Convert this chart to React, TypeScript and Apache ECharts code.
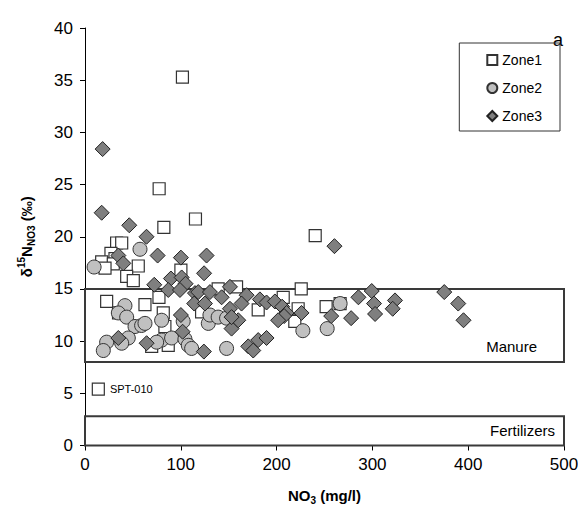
import React, { useEffect, useRef } from "react";
import * as echarts from "echarts";

// NO3 concentration (mg/l) and δ15N-NO3 (‰) for each sampling zone
const zone1X = [101.7, 77.4, 115.3, 82.3, 240.3, 33, 38.3, 27.1, 31.3, 17.4, 29.5, 20.9, 55.6, 100.1, 43.5, 50.4, 225.7, 158.2, 139, 77.2, 22.6, 62.6, 35, 81.7, 83.4, 69.6, 86.9, 266.3, 251.7, 180.8, 206.9, 222.5, 219, 121.7, 13.9];
const zone1Y = [35.3, 24.6, 21.7, 20.9, 20.1, 19.4, 19.4, 18.4, 17.9, 17.6, 17.4, 17.0, 17.2, 16.8, 16.2, 15.8, 15.0, 15.2, 15.0, 14.2, 13.8, 13.5, 12.7, 12.7, 11.4, 9.5, 9.6, 13.6, 13.3, 13.0, 14.2, 13.1, 11.9, 12.8, 5.4];

const zone2X = [57.4, 9.5, 41.7, 34.8, 43.5, 52.2, 59.1, 62.6, 80, 102.5, 45.2, 38.3, 22.6, 19.1, 80, 90.4, 74.8, 104.3, 107.8, 111.3, 147.8, 128.7, 130.4, 139, 147.8, 266.3, 252.8, 227.4];
const zone2Y = [18.8, 17.1, 13.4, 12.7, 12.3, 11.4, 11.5, 11.7, 12.0, 11.9, 10.3, 9.8, 9.9, 9.1, 10.1, 10.3, 9.9, 10.2, 9.6, 9.3, 9.3, 11.7, 12.5, 12.3, 12.2, 13.6, 11.2, 11.0];

const zone3X = [18.4, 17.4, 46.2, 64.2, 75.8, 34.8, 40, 100.1, 126.9, 124.3, 89.7, 100.9, 105, 72.3, 86.9, 99.1, 114.8, 114, 100.1, 101.9, 64.3, 34.8, 124.1, 170.4, 175.6, 180.8, 189.5, 153, 160, 118.2, 130.4, 142.6, 151.3, 168.7, 182.6, 189.5, 198.2, 205.8, 210.4, 207.9, 201.6, 226, 151.3, 163.4, 153, 125.2, 260.4, 299.3, 285.4, 323.6, 301.7, 321.2, 302.8, 277.8, 257, 375, 389.6, 395.1];
const zone3Y = [28.4, 22.3, 21.1, 20.0, 18.2, 18.2, 17.45, 18.0, 18.2, 16.5, 16.0, 16.1, 15.5, 15.4, 14.9, 14.9, 14.6, 13.6, 12.5, 10.9, 9.8, 10.3, 9.0, 9.5, 9.1, 10.1, 10.3, 11.2, 12.0, 14.7, 14.7, 14.2, 15.2, 14.4, 14.0, 13.7, 13.8, 13.3, 12.7, 12.4, 12.0, 12.7, 13.1, 13.6, 12.3, 13.6, 19.1, 14.8, 14.2, 13.9, 13.6, 13.1, 12.6, 12.2, 12.4, 14.7, 13.6, 12.0];

// Source ranges of δ15N (‰)
const manureRange = [8, 15];
const fertilizerRange = [0, 2.8];
const labeledSample = "SPT-010";

const FONT = "Arial, 'Liberation Sans', sans-serif";

function pairs(xs: number[], ys: number[]) {
  return xs.map((x, i) => [x, ys[i]]);
}

export default function App() {
  const ref = useRef<HTMLDivElement>(null);

  useEffect(() => {
    if (!ref.current) return;
    const chart = echarts.init(ref.current, undefined, { renderer: "svg" });

    const zone1Data: any[] = pairs(zone1X, zone1Y);
    const last = zone1Data.length - 1;
    zone1Data[last] = {
      value: zone1Data[last],
      label: {
        show: true,
        position: "right",
        distance: 5,
        formatter: labeledSample,
        fontSize: 11,
        fontFamily: FONT,
        color: "#000",
      },
    };

    chart.setOption({
      animation: false,
      backgroundColor: "#fff",
      textStyle: { fontFamily: FONT },
      grid: { left: 85, right: 22, top: 28, bottom: 81.5 },
      legend: {
        orient: "vertical",
        right: 26,
        top: 43,
        padding: [10, 18, 8, 27],
        itemWidth: 10,
        itemHeight: 10,
        itemGap: 14,
        borderColor: "#333",
        borderWidth: 1,
        textStyle: { fontSize: 14, color: "#000", fontFamily: FONT, lineHeight: 14 },
        data: [
          { name: "Zone1", icon: "rect" },
          { name: "Zone2", icon: "circle" },
          { name: "Zone3", icon: "diamond" },
        ],
      },
      xAxis: {
        type: "value",
        min: 0,
        max: 500,
        interval: 100,
        splitLine: { show: false },
        axisLine: { show: true, lineStyle: { color: "#000", width: 1 } },
        axisTick: { show: true, length: 5, lineStyle: { color: "#000" } },
        axisLabel: { fontSize: 17, color: "#000", margin: 10, fontFamily: FONT },
        name: "{b|NO}{s|3}{b| (mg/l)}",
        nameLocation: "middle",
        nameGap: 40,
        nameTextStyle: {
          rich: {
            b: { fontSize: 15, fontWeight: "bold", color: "#000", fontFamily: FONT, lineHeight: 20 },
            s: { fontSize: 10, fontWeight: "bold", color: "#000", fontFamily: FONT, verticalAlign: "bottom", lineHeight: 12 },
          },
        },
      },
      yAxis: {
        type: "value",
        min: 0,
        max: 40,
        interval: 5,
        splitLine: { show: false },
        axisLine: { show: true, lineStyle: { color: "#000", width: 1 } },
        axisTick: { show: true, length: 5, lineStyle: { color: "#000" } },
        axisLabel: { fontSize: 17, color: "#000", margin: 12, fontFamily: FONT },
        name: "{b|δ}{p|15}{b|N}{s|NO3}{b| (‰)}",
        nameLocation: "middle",
        nameRotate: 90,
        nameGap: 49,
        nameTextStyle: {
          rich: {
            b: { fontSize: 15, fontWeight: "bold", color: "#000", fontFamily: FONT, lineHeight: 20 },
            p: { fontSize: 10, fontWeight: "bold", color: "#000", fontFamily: FONT, verticalAlign: "top", lineHeight: 12 },
            s: { fontSize: 10, fontWeight: "bold", color: "#000", fontFamily: FONT, verticalAlign: "bottom", lineHeight: 12 },
          },
        },
      },
      graphic: [
        {
          type: "text",
          left: 553,
          top: 31,
          style: { text: "a", fontSize: 18, fontFamily: FONT, fill: "#000" },
        },
      ],
      series: [
        {
          name: "ranges",
          type: "scatter",
          data: [],
          silent: true,
          markArea: {
            silent: true,
            itemStyle: { color: "rgba(0,0,0,0)", borderColor: "#3a3a3a", borderWidth: 2 },
            label: { color: "#000", fontSize: 15, fontFamily: FONT },
            data: [
              [
                {
                  name: "Manure",
                  xAxis: 0,
                  yAxis: manureRange[0],
                  label: { position: "insideBottomRight", distance: 5, offset: [-23, -4] },
                },
                { xAxis: 500, yAxis: manureRange[1] },
              ],
              [
                {
                  name: "Fertilizers",
                  xAxis: 0,
                  yAxis: fertilizerRange[0],
                  label: { position: "insideRight", distance: 10 },
                },
                { xAxis: 500, yAxis: fertilizerRange[1] },
              ],
            ],
          },
        },
        {
          name: "Zone1",
          type: "scatter",
          symbol: "rect",
          symbolSize: 12,
          itemStyle: { color: "#fff", borderColor: "#333", borderWidth: 1.2, opacity: 1 },
          data: zone1Data,
        },
        {
          name: "Zone2",
          type: "scatter",
          symbol: "circle",
          symbolSize: 14,
          itemStyle: { color: "#c0c0c0", borderColor: "#333", borderWidth: 1, opacity: 1 },
          data: pairs(zone2X, zone2Y),
        },
        {
          name: "Zone3",
          type: "scatter",
          symbol: "diamond",
          symbolSize: 15,
          itemStyle: { color: "#7f7f7f", borderColor: "#222", borderWidth: 1, opacity: 1 },
          data: pairs(zone3X, zone3Y),
        },
      ],
    });

    return () => chart.dispose();
  }, []);

  return <div ref={ref} style={{ width: 586, height: 527, margin: -8 }} />;
}
